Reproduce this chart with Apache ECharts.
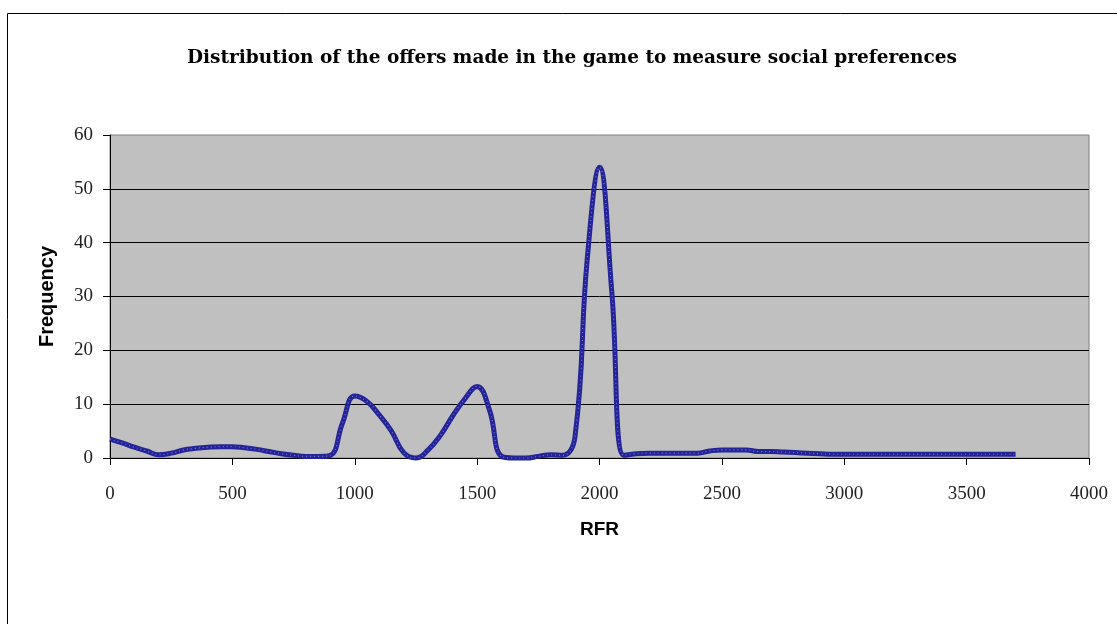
<!DOCTYPE html>
<html>
<head>
<meta charset="utf-8">
<script src="https://cdn.jsdelivr.net/npm/echarts@6/dist/echarts.min.js"></script>
<style>
html,body{margin:0;padding:0;background:#fff;}
#chart{width:1117px;height:624px;}
</style>
</head>
<body>
<div id="chart"></div>
<script>
var titleText = 'Distribution of the offers made in the game to measure social preferences';
var xAxisName = 'RFR';
var yAxisName = 'Frequency';
var rfr = [0,50,100,150,200,250,300,350,400,450,500,550,600,650,700,750,800,850,900,950,
           1000,1050,1100,1150,1200,1250,1300,1350,1400,1450,1500,1550,1600,1650,1700,1750,1800,1850,1900,1950,
           2000,2050,2100,2150,2200,2250,2300,2350,2400,2450,2500,2550,2600,2650,2700,2750,2800,2850,2900,2950,
           3000,3050,3100,3150,3200,3250,3300,3350,3400,3450,3500,3550,3600,3650,3700];
var frequency = [3.5,2.8,2.0,1.3,0.6,0.9,1.5,1.8,2.0,2.1,2.1,1.9,1.6,1.2,0.8,0.5,0.3,0.3,0.5,6.5,
                 11.5,10.5,8.0,5.0,1.0,0.0,1.5,4.2,7.8,11.0,13.3,9.0,0.3,0.0,0.0,0.3,0.6,0.5,4.0,37.0,
                 54.0,31.0,0.5,0.8,0.9,0.9,0.9,0.9,0.9,1.3,1.5,1.5,1.5,1.2,1.2,1.1,1.0,0.9,0.8,0.7,
                 0.7,0.7,0.7,0.7,0.7,0.7,0.7,0.7,0.7,0.7,0.7,0.7,0.7,0.7,0.7];
var yTicks = [0,10,20,30,40,50,60];
var xTicks = [0,500,1000,1500,2000,2500,3000,3500,4000];

var points = rfr.map(function(v,i){ return [v, frequency[i]]; });

var chart = echarts.init(document.getElementById('chart'));
chart.setOption({
  animation:false,
  backgroundColor:'#ffffff',
  title:{
    text:titleText, left:182, top:44,
    textStyle:{fontFamily:'DejaVu Serif', fontWeight:'bold', fontSize:18.5, color:'#000'}
  },
  graphic:[{
    type:'rect', shape:{x:7.5,y:13.5,width:1200,height:700},
    style:{fill:'none', stroke:'#000', lineWidth:1}, silent:true
  }],
  grid:{left:110, top:135, width:979, height:323, show:true, backgroundColor:'#c0c0c0', borderColor:'#808080', borderWidth:1},
  xAxis:{
    type:'value', min:xTicks[0], max:xTicks[xTicks.length-1], interval:500,
    name:xAxisName, nameLocation:'middle', nameGap:62,
    nameTextStyle:{fontFamily:'Liberation Sans', fontWeight:'bold', fontSize:19, color:'#000'},
    axisLine:{show:true, onZero:false, lineStyle:{color:'#000', width:1}},
    axisTick:{show:true, length:7, inside:false, lineStyle:{color:'#000'}},
    axisLabel:{margin:27, fontFamily:'Liberation Serif', fontSize:19, color:'#222',
               formatter:function(v){ return String(v); }},
    splitLine:{show:false}
  },
  yAxis:{
    type:'value', min:yTicks[0], max:yTicks[yTicks.length-1], interval:10,
    name:yAxisName, nameLocation:'middle', nameGap:53, nameRotate:90,
    nameTextStyle:{fontFamily:'Liberation Sans', fontWeight:'bold', fontSize:20, color:'#000'},
    axisLine:{show:true, lineStyle:{color:'#000', width:1}},
    axisTick:{show:true, length:7, lineStyle:{color:'#000'}},
    axisLabel:{margin:17, fontFamily:'Liberation Serif', fontSize:19, color:'#222'},
    splitLine:{show:true, showMaxLine:false, lineStyle:{color:'#000', width:1}}
  },
  series:[{
    type:'line', data:points, smooth:0.45, showSymbol:false, clip:false,
    lineStyle:{color:'#23239a', width:5}
  },{
    type:'line', data:points, smooth:0.45, showSymbol:false, clip:false,
    lineStyle:{color:'#7a7ac4', width:1.2, type:[1,3]}
  }]
});
</script>
</body>
</html>
